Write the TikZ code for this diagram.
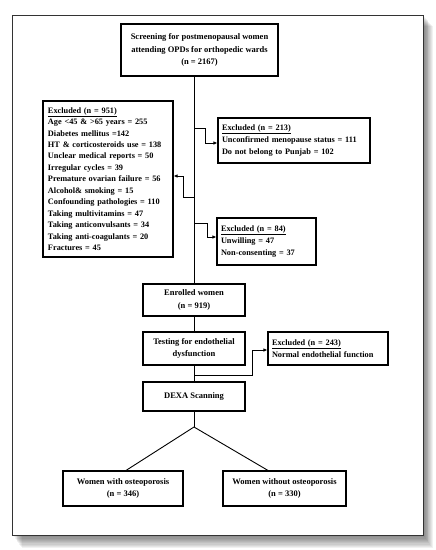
\documentclass[tikz,border=0pt]{standalone}
\usepackage{fontspec}
\setmainfont{Liberation Serif}
\usetikzlibrary{arrows.meta,calc}
\begin{document}
\begin{tikzpicture}[x=1pt,y=-1pt,
  box/.style={draw=black,line width=1.1pt,fill=white,inner sep=0pt,align=center,
    font=\bfseries\fontsize{8.5}{12.8}\selectfont},
  lbox/.style={box,align=left,font=\bfseries\fontsize{8.3}{12}\selectfont},
  conn/.style={line width=0.9pt},
  arr/.style={conn,-{Latex[length=4pt,width=3.5pt]}}]
\useasboundingbox (0,0) rectangle (436,550);
% frame shadow
\foreach \d in {1,...,11}{
  \fill[black,opacity=0.055] (12+0.9*\d,15+1.0*\d) rectangle (423+0.9*\d,535+1.2*\d);
}
\draw[line width=0.9pt,draw=black!80,fill=white] (12,15) rectangle (423,535);

% nodes
\node[box,minimum width=157pt,minimum height=52pt] (top) at (199.5,50)
  {Screening for postmenopausal women\\attending OPDs for orthopedic wards\\(n = 2167)};
\node[lbox,font=\bfseries\fontsize{8.3}{11.45}\selectfont,minimum width=130pt,minimum height=156pt,text width=120pt] (ex951) at (108,179)
  {\underline{Excluded (n = 951)}\\
   Age <45 \& >65 years = 255\\
   Diabetes mellitus =142\\
   HT \& corticosteroids use = 138\\
   Unclear medical reports = 50\\
   Irregular cycles = 39\\
   Premature ovarian failure = 56\\
   Alcohol\& smoking = 15\\
   Confounding pathologies = 110\\
   Taking multivitamins = 47\\
   Taking anticonvulsants\ = 34\\
   Taking anti-coagulants\ = 20\\
   Fractures = 45};
\node[lbox,minimum width=152pt,minimum height=45pt,text width=144pt] (ex213) at (294,140.5)
  {\underline{Excluded (n = 213)}\\
   Unconfirmed menopause status = 111\\
   Do not belong to Punjab = 102};
\node[lbox,minimum width=99pt,minimum height=47pt,text width=91pt] (ex84) at (266.5,241.5)
  {\underline{Excluded (n = 84)}\\
   Unwilling = 47\\
   Non-consenting = 37};
\node[box,minimum width=102pt,minimum height=32pt] (enr) at (194,300)
  {Enrolled women\\(n = 919)};
\node[box,minimum width=102pt,minimum height=33pt] (test) at (194,348.5)
  {Testing for endothelial\\dysfunction};
\node[lbox,minimum width=120pt,minimum height=33pt,text width=112pt] (ex243) at (328,348.5)
  {\underline{Excluded (n = 243)}\\
   Normal endothelial function};
\node[box,minimum width=102pt,minimum height=29pt] (dexa) at (194,396.5)
  {DEXA Scanning};
\node[box,minimum width=120pt,minimum height=35pt] (osy) at (123,488.5)
  {Women with osteoporosis\\(n = 346)};
\node[box,minimum width=123pt,minimum height=35pt] (osn) at (284.5,488.5)
  {Women without osteoporosis\\(n = 330)};

% coordinates
\coordinate (b1) at (194,128);
\coordinate (b2) at (194,197);
\coordinate (b3) at (194,223);
\coordinate (b4) at (194,375);
\coordinate (apex) at (194,427);

% connectors
\draw[conn] (top.south -| enr.north) -- (enr.north);
\draw[conn] (enr.south) -- (test.north);
\draw[conn] (test.south) -- (dexa.north);
\draw[conn] (dexa.south) -- (apex);
\draw[conn] (apex) -- (osy.north -| 126,0);
\draw[conn] (apex) -- (osn.north -| 268,0);
\draw[arr] (b1) -- (205,128) -- (205,143) -- (ex213.west |- 0,143);
\draw[arr] (b2) -- (183,197) -- (183,176) -- (ex951.east |- 0,176);
\draw[arr] (b3) -- (207,223) -- (207,237) -- (ex84.west |- 0,237);
\draw[arr] (b4) -- (252,375) -- (252,350) -- (ex243.west |- 0,350);
\end{tikzpicture}
\end{document}
